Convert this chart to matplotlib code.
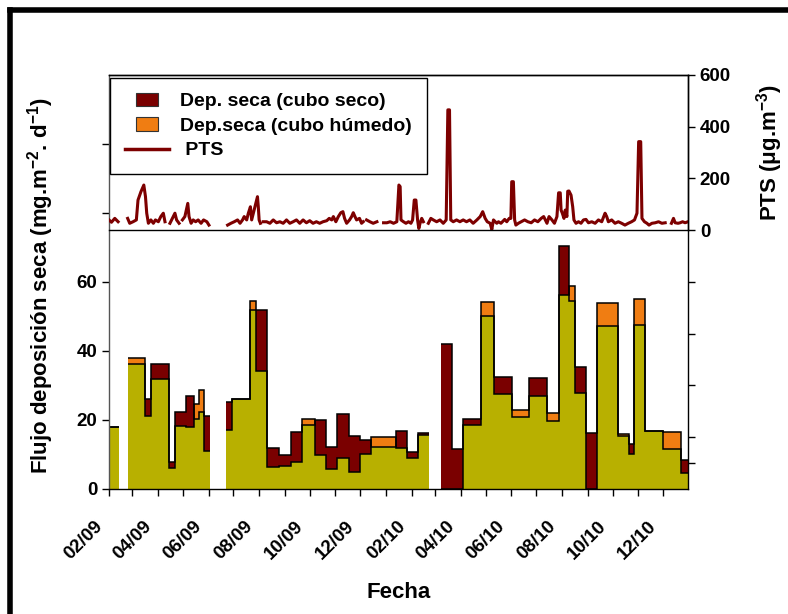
import numpy as np
import matplotlib
matplotlib.use('Agg')
import matplotlib.pyplot as plt
import matplotlib.dates as mdates
import matplotlib.patches as mpatches
import matplotlib.transforms as mtransforms
from matplotlib.lines import Line2D
from matplotlib.legend_handler import HandlerPatch

plt.rcParams['font.family'] = ['Liberation Sans', 'DejaVu Sans']
plt.rcParams['font.weight'] = 'bold'
plt.rcParams['mathtext.fontset'] = 'custom'
plt.rcParams['mathtext.rm'] = 'Liberation Sans:bold'
plt.rcParams['mathtext.bf'] = 'Liberation Sans:bold'
plt.rcParams['mathtext.it'] = 'Liberation Sans:bold'

# --- deposition periods (edges) and values (mg m-2 d-1); None = no sample
periodo_limites = [
    '2009-02-01', '2009-02-13', '2009-02-24', '2009-03-17', '2009-03-24',
    '2009-04-14', '2009-04-21', '2009-05-05', '2009-05-14', '2009-05-20',
    '2009-05-27', '2009-06-03', '2009-06-22', '2009-06-29', '2009-07-21',
    '2009-07-28', '2009-08-10', '2009-08-25', '2009-09-08', '2009-09-22',
    '2009-10-07', '2009-10-21', '2009-11-03', '2009-11-17', '2009-12-01',
    '2009-12-14', '2010-01-13', '2010-01-26', '2010-02-09', '2010-02-22',
    '2010-03-08', '2010-03-22', '2010-04-04', '2010-04-26', '2010-05-11',
    '2010-06-02', '2010-06-22', '2010-07-14', '2010-07-28', '2010-08-09',
    '2010-08-17', '2010-08-30', '2010-09-12', '2010-10-08', '2010-10-21',
    '2010-10-27', '2010-11-09', '2010-12-01', '2010-12-22', '2010-12-31',
]
dep_cubo_seco = [
    18.0, None, 36.2, 26.1, 36.2, 7.7, 22.4, 27.0, 20.2, 22.4,
    21.2, None, 25.3, 26.0, 51.9, 51.9, 12.0, 9.9, 16.4, 18.5,
    20.0, 12.3, 21.6, 15.5, 14.2, 12.3, 16.9, 10.6, 16.1, None,
    42.1, 11.6, 20.2, 50.1, 32.4, 20.8, 32.1, 19.7, 70.4, 54.6,
    35.5, 16.3, 47.1, 15.4, 12.9, 47.4, 16.8, 11.5, 8.4,
]
dep_cubo_humedo = [
    18.0, None, 38.1, 21.3, 31.8, 6.2, 18.3, 17.9, 24.6, 28.7,
    11.1, None, 17.1, 26.0, 54.4, 34.2, 6.3, 6.8, 7.9, 20.2,
    9.9, 5.8, 9.1, 5.0, 10.1, 15.0, 11.8, 8.9, 15.7, None,
    0.0, 0.0, 18.5, 54.1, 27.5, 22.9, 27.0, 22.1, 56.2, 58.7,
    27.9, 0.0, 53.8, 15.9, 10.0, 55.2, 16.8, 16.6, 4.7,
]

# --- PTS (ug m-3): days since 2009-02-01 and value; None = gap
pts_dia = [
    0, 3, 7, 11, 14,
    22.5, 25, 29, 33, 35, 38.5, 42, 44, 45.5, 47.5,
    50.5, 53.5, 56, 59.5, 62.5, 65.5, 67.5, 70,
    73.5, 77.5, 79.5, 81.5, 84.5, 86,
    88.5, 91.5, 95, 96.5, 99, 101.5, 104.5, 107.5, 111, 114,
    118, 120.5, 130,
    143, 147, 151, 155, 158, 161, 163, 166, 168, 170.5,
    172, 174, 177, 179, 180, 181, 182.5, 184,
    186, 190, 194, 198, 202, 206, 210, 214, 218, 222,
    226, 230, 234, 238, 242, 246, 250, 254, 258, 262.5,
    265.5, 268.5, 270.5, 273.5, 276.5, 279.5, 282, 284, 286.5, 290,
    292.5, 294.5, 296.5, 298.5, 302, 304.5, 306.5, 308,
    310.5, 314.5, 318.5, 323, 326,
    331, 335, 339, 343, 347, 349.5, 351, 352, 355, 358,
    361, 364, 366, 368, 370, 372, 373.5, 375, 377, 379,
    381,
    385, 388, 391, 395, 399, 403, 406.5, 408.5, 410.5, 412,
    415, 419, 423, 427, 431, 435, 439, 443.5, 447.5, 450.5,
    453.5, 456, 459.5, 461.5, 463.5, 467.5, 469.5, 472.5, 477, 479.5,
    482.5, 484.5, 485.5, 487.5, 489, 490.5, 493.5, 497, 501, 505,
    509, 513, 517, 521, 524, 526, 528, 530.5, 534, 537,
    540, 542, 544, 545, 546.5, 548.5, 550, 552, 553, 554.5,
    557, 559, 560.5, 563, 566, 569, 572, 575, 578, 582,
    586, 590, 594, 598, 600, 602, 606, 610, 614, 618,
    622, 626, 630, 633.5, 636.5, 638.5, 641, 642.5, 645.5, 648.5,
    651, 654.5, 658.5, 662.5, 666.5, 670.5, 673,
    678, 680.5, 682.5, 686, 688.5, 691.5, 694.5, 698,
]
pts_valor = [
    39, 30, 45, 32, None,
    45, 26, 32, 39, 116, 148, 174, 129, 65, 26,
    39, 26, 39, 32, 52, 65, 32, None,
    26, 52, 65, 39, 26, None,
    39, 52, 103, 52, 26, 39, 32, 39, 26, 39,
    32, 19, None,
    19, 26, 32, 39, 26, 39, 52, 39, 65, 90,
    39, 65, 103, 129, 90, 39, 26, None,
    32, 32, 26, 39, 28, 32, 26, 39, 26, 32,
    39, 26, 39, 28, 36, 26, 32, 26, 32, 36,
    45, 39, 52, 32, 52, 67, 71, 45, 26, 39,
    52, 67, 52, 39, 45, 26, 32, None,
    39, 32, 26, 32, None,
    28, 28, 32, 26, 32, 174, 168, 39, 32, 26,
    32, 26, 39, 116, 116, 39, 6, 26, 45, 32,
    None,
    26, 45, 39, 32, 39, 26, 39, 465, 465, 39,
    32, 39, 32, 39, 32, 39, 26, 39, 52, 71,
    45, 32, 26, 2, 39, 26, 32, 26, 41, 32,
    45, 45, 187, 187, 39, 19, 26, 32, 39, 32,
    28, 39, 32, 45, 52, 39, 26, 52, 39, 26,
    52, 144, 144, 77, 65, 45, 77, 52, 150, 151,
    135, 90, 39, 26, 32, 26, 39, 41, 28, 32,
    26, 39, 32, 65, 52, 32, 39, 26, 32, 26,
    19, 26, 32, 39, 65, 342, 342, 45, 32, 26,
    19, 26, 28, 32, 26, 28, None,
    26, 45, 28, 26, 28, 32, 28, 32,
]

inicio = '2009-02-01'
fin = '2010-12-31'

c_seco = '#7a0000'
c_hum = '#f07d12'
c_comun = '#b8b000'
c_pts = '#7d0000'

edges = mdates.date2num(np.array(periodo_limites, dtype='datetime64[D]'))
seco = np.array(dep_cubo_seco, dtype=float)
hum = np.array(dep_cubo_humedo, dtype=float)
comun = np.minimum(seco, hum)

t0 = mdates.date2num(np.datetime64(inicio))
pts_x = t0 + np.array(pts_dia, dtype=float)
pts_y = np.array(pts_valor, dtype=float)

fig = plt.figure(figsize=(7.88, 6.14), dpi=100)

# main axis (deposition), covers both panels so left ticks continue upward
ax = fig.add_axes([0.1383, 0.2036, 0.7348, 0.6743])
ax.stairs(comun, edges, baseline=0, fill=True, color=c_comun, lw=0)
ax.stairs(np.maximum(seco, comun), edges, baseline=comun, fill=True, color=c_seco, lw=0)
ax.stairs(np.maximum(hum, comun), edges, baseline=comun, fill=True, color=c_hum, lw=0)
ax.stairs(seco, edges, baseline=None, color='black', lw=1.1)
ax.stairs(hum, edges, baseline=None, color='black', lw=1.1)

ax.set_xlim(t0, mdates.date2num(np.datetime64(fin)))
ax.set_ylim(0, 120)
ax.set_yticks([0, 20, 40, 60, 80, 100])
ax.set_yticklabels(['0', '20', '40', '60', '', ''])
ax.tick_params(axis='y', labelsize=13.5, length=5, width=1)
ax.xaxis.set_major_locator(mdates.MonthLocator(bymonth=range(2, 13, 2)))
ax.xaxis.set_minor_locator(mdates.MonthLocator())
ax.xaxis.set_major_formatter(mdates.DateFormatter('%m/%y'))
ax.tick_params(axis='x', which='both', length=5, width=1, labelsize=13.5, pad=20)
shift = mtransforms.ScaledTranslation(-0.09, 0, fig.dpi_scale_trans)
for lab in ax.get_xticklabels():
    lab.set_rotation(45)
    lab.set_ha('right')
    lab.set_va('center')
    lab.set_rotation_mode('anchor')
    lab.set_transform(lab.get_transform() + shift)
for s in ax.spines.values():
    s.set_linewidth(1)
ax.spines['left'].set_color('#555555')
ax.set_ylabel('Flujo deposición seca (mg.m$^{-2}$. d$^{-1}$)', fontsize=16, fontweight='bold')
ax.yaxis.set_label_coords(-0.092, 0.49)
ax.set_xlabel('Fecha', fontsize=16, fontweight='bold')
ax.xaxis.set_label_coords(0.5, -0.225)

# extra unlabeled ticks on the right side of the lower panel
ax3 = ax.twinx()
ax3.set_ylim(0, 120)
ax3.set_yticks([7.5, 15, 30, 45, 60])
ax3.set_yticklabels([])
ax3.tick_params(axis='y', length=5, width=1)
for s in ax3.spines.values():
    s.set_visible(False)

# top panel: PTS
ax2 = fig.add_axes([0.1383, 0.6254, 0.7348, 0.2525])
ax2.patch.set_alpha(0)
ax2.plot(pts_x, pts_y, color=c_pts, lw=2.2)
ax2.set_xlim(ax.get_xlim())
ax2.set_ylim(0, 600)
ax2.yaxis.tick_right()
ax2.yaxis.set_label_position('right')
ax2.set_yticks([0, 200, 400, 600])
ax2.tick_params(axis='y', labelsize=13.5, length=5, width=1)
ax2.tick_params(axis='x', bottom=False, labelbottom=False)
ax2.spines['left'].set_visible(False)
for s in ax2.spines.values():
    s.set_linewidth(1)
ax2.set_ylabel('PTS ($\\mu$g.m$^{-3}$)', fontsize=16, fontweight='bold')
ax2.yaxis.set_label_coords(1.115, 0.5)


def caja_chica(legend, orig_handle, xdescent, ydescent, width, height, fontsize):
    return mpatches.Rectangle((-xdescent + 0.25 * width, -ydescent), 0.5 * width, height)


h_seco = mpatches.Patch(facecolor=c_seco, edgecolor='#333333', lw=0.8)
h_hum = mpatches.Patch(facecolor=c_hum, edgecolor='#333333', lw=0.8)
h_pts = Line2D([], [], color=c_pts, lw=2.5)
leg = ax2.legend([h_seco, h_hum, h_pts],
                 ['Dep. seca (cubo seco)', 'Dep.seca (cubo húmedo)', ' PTS'],
                 loc='upper left', bbox_to_anchor=(0.1396, 0.873),
                 bbox_transform=fig.transFigure, borderaxespad=0,
                 prop={'weight': 'bold', 'size': 14},
                 frameon=True, fancybox=False, framealpha=1, edgecolor='black',
                 handlelength=2.27, handletextpad=0.6, labelspacing=0.36,
                 borderpad=0.75,
                 handler_map={mpatches.Patch: HandlerPatch(patch_func=caja_chica)})
leg.get_frame().set_linewidth(1)

# thick outer frame (top and left edges)
fig.add_artist(Line2D([0.0127, 1.0], [0.9837, 0.9837], color='black', lw=4,
                      transform=fig.transFigure))
fig.add_artist(Line2D([0.0127, 0.0127], [0.0, 0.9837], color='black', lw=4,
                      transform=fig.transFigure))

fig.savefig('out.png', dpi=100)
